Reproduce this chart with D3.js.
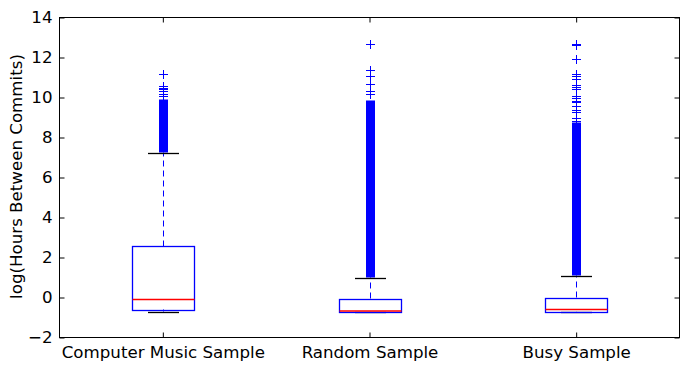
<!DOCTYPE html>
<html><head><meta charset="utf-8">
<script src="https://cdn.jsdelivr.net/npm/d3@7"></script>
<style>body{margin:0;background:#fff}text{font-family:"DejaVu Sans",sans-serif}</style>
</head><body>
<svg id="c" width="688" height="368"></svg>
<script>
const categories = ["Computer Music Sample", "Random Sample", "Busy Sample"];
const q1 = [-0.6, -0.7, -0.7];
const median = [-0.05, -0.7, -0.55];
const q3 = [2.55, -0.05, 0.0];
const whiskerLow = [-0.7, -0.7, -0.7];
const whiskerHigh = [7.25, 1.0, 1.1];
const denseLow = [7.25, 1.0, 1.1];
const denseHigh = [9.9, 9.85, 8.75];
const outliers = [
  [10.1, 10.2, 10.3, 10.4, 10.5, 10.6, 11.2],
  [10.2, 10.3, 10.65, 11.05, 11.4, 12.7],
  [8.85, 9.0, 9.27, 9.38, 9.6, 9.77, 9.85, 9.98, 10.1, 10.4, 10.52, 10.63, 10.93, 11.07, 11.2, 11.93, 12.62, 12.68]
];
const yTicks = [-2, 0, 2, 4, 6, 8, 10, 12, 14];
const yLabel = "log(Hours Between Commits)";

const FS = 16.67;
const svg = d3.select("#c");
const L = 59.5, R = 679.5, T = 17.5, B = 337.5;
const x = d3.scaleLinear().domain([0.5, 3.5]).range([L, R]);
const y = d3.scaleLinear().domain([-2, 14]).range([B, T]);
const bw = x(1.15) - x(0.85);
const blue = "#0000ff";
const snap = v => Math.round(v) + 0.5;

const g = svg.append("g");
categories.forEach((c, i) => {
  const cx = snap(x(i + 1));
  // dense outlier band
  g.append("rect").attr("x", cx - 4.5).attr("width", 9)
    .attr("y", y(denseHigh[i])).attr("height", y(denseLow[i]) - y(denseHigh[i]))
    .attr("fill", blue);
  outliers[i].forEach(v => {
    const yy = snap(y(v));
    g.append("path").attr("d", `M${cx-4.5},${yy}H${cx+4.5}M${cx},${yy-4.5}V${yy+4.5}`)
      .attr("stroke", blue).attr("stroke-width", 1).attr("fill", "none");
  });
  // whiskers
  g.append("line").attr("x1", cx).attr("x2", cx).attr("y1", y(q3[i])).attr("y2", y(whiskerHigh[i]))
    .attr("stroke", blue).attr("stroke-dasharray", "6,4").attr("stroke-width", 1);
  g.append("line").attr("x1", cx).attr("x2", cx).attr("y1", y(q1[i])).attr("y2", y(whiskerLow[i]))
    .attr("stroke", blue).attr("stroke-dasharray", "6,4").attr("stroke-width", 1);
  // caps
  [whiskerLow[i], whiskerHigh[i]].forEach(v => {
    const yy = snap(y(v));
    g.append("line").attr("x1", cx - bw / 4).attr("x2", cx + bw / 4).attr("y1", yy).attr("y2", yy)
      .attr("stroke", "#000").attr("stroke-width", 1.3);
  });
  // box
  g.append("rect").attr("x", cx - bw / 2).attr("width", bw)
    .attr("y", snap(y(q3[i]))).attr("height", snap(y(q1[i])) - snap(y(q3[i])))
    .attr("fill", "none").attr("stroke", blue).attr("stroke-width", 1.3);
  const my = snap(y(median[i])) - (median[i] === q1[i] ? 1.5 : 0);
  g.append("line").attr("x1", cx - bw / 2).attr("x2", cx + bw / 2).attr("y1", my).attr("y2", my)
    .attr("stroke", "#ff0000").attr("stroke-width", 1.3);
});

// frame
svg.append("rect").attr("x", L).attr("y", T).attr("width", R - L).attr("height", B - T)
  .attr("fill", "none").attr("stroke", "#000").attr("stroke-width", 1);

// axes with inward ticks
const yAxisL = svg.append("g").attr("transform", `translate(${L},0)`)
  .call(d3.axisLeft(y).tickValues(yTicks).tickSize(-5).tickPadding(9).tickFormat(d => d < 0 ? "\u2212" + Math.abs(d) : d));
const yAxisR = svg.append("g").attr("transform", `translate(${R},0)`)
  .call(d3.axisRight(y).tickValues(yTicks).tickSize(-5).tickFormat(""));
const xAxisB = svg.append("g").attr("transform", `translate(0,${B})`)
  .call(d3.axisBottom(x).tickValues([1, 2, 3]).tickSize(-5).tickPadding(9).tickFormat((d, i) => categories[i]));
const xAxisT = svg.append("g").attr("transform", `translate(0,${T})`)
  .call(d3.axisTop(x).tickValues([1, 2, 3]).tickSize(-5).tickFormat(""));
[yAxisL, yAxisR, xAxisB, xAxisT].forEach(a => {
  a.select(".domain").remove();
  a.selectAll("text").attr("font-size", FS).attr("fill", "#000").style("font-family", "DejaVu Sans");
});
yAxisL.selectAll("text").attr("x", -7);

svg.append("text").attr("transform", `translate(22,${(T + B) / 2 - 1}) rotate(-90)`)
  .attr("text-anchor", "middle").attr("font-size", FS).text(yLabel);
</script>
</body></html>
